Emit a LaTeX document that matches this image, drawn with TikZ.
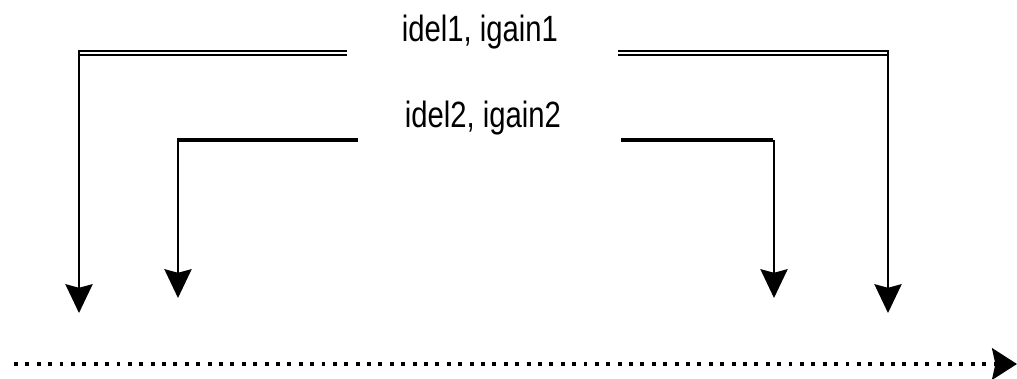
\documentclass[tikz,border=0pt]{standalone}
\usepackage{fontspec}
\setmainfont{Liberation Sans}
\usetikzlibrary{arrows.meta}
\tikzset{
	gainline/.style={line width=1.6pt, double, double distance=1.7pt},
	thickline/.style={line width=3.4pt},
	dropline/.style={line width=1.5pt, -{Stealth[length=0.72cm,width=0.68cm,inset=0.09cm]}},
	timeline/.style={line width=3.2pt, dash pattern=on 2.8pt off 5.3pt, -{Stealth[length=0.62cm,width=0.78cm,inset=0.08cm]}},
	lbl/.style={anchor=base, inner sep=0pt, font=\fontsize{26}{30}\selectfont}
}
\begin{document}
\begin{tikzpicture}[x=0.025cm, y=-0.025cm, line join=miter]
	\useasboundingbox (0,0) rectangle (1017,379);
	\path
	(347,53)coordinate(A1)
	(79,53)coordinate(B1)
	(79,313)coordinate(C1)
	(618,53)coordinate(D1)
	(888,53)coordinate(E1)
	(888,313)coordinate(F1)
	(358,140)coordinate(A2)
	(178,140)coordinate(B2)
	(178,298)coordinate(C2)
	(621,140)coordinate(D2)
	(774,140)coordinate(E2)
	(774,298)coordinate(F2)
	(14,364)coordinate(T0)
	(1017,364)coordinate(T1)
	;
	\node[lbl] (lab1) at (480,42) {\scalebox{0.8}[1]{idel1, igain1}};
	\node[lbl] (lab2) at (483,128) {\scalebox{0.8}[1]{idel2, igain2}};
	% outer pair
	\foreach \a/\b in {A1/B1,D1/E1} \draw[gainline] (\a)--(\b);
	\foreach \b/\c in {B1/C1,E1/F1} \draw[dropline] ([yshift=2]\b)--(\c);
	% inner pair
	\foreach \a/\b/\c in {A2/B2/C2,D2/E2/F2} {
		\draw[thickline] (\a)--([xshift=-0.7]\b);
		\draw[dropline] (\b)--(\c);
	}
	\draw[timeline] (T0)--(T1);
\end{tikzpicture}
\end{document}
